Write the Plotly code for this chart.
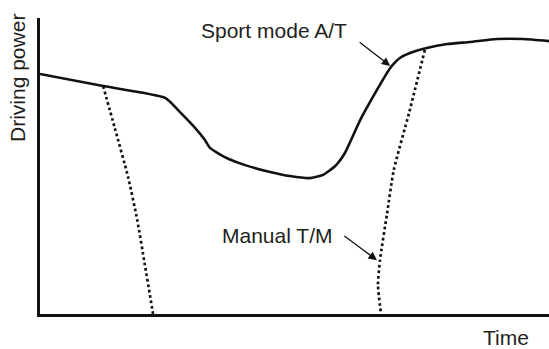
import plotly.graph_objects as go

# Driving power versus time (arbitrary units, 0-100 on both axes)
sport_time = [0, 12.4, 24.6, 27.5, 30.5, 32.4, 33.4, 36.3, 40.3, 45.2, 49.1, 53.0,
              55.6, 58.0, 59.9, 62.9, 66.2, 68.8, 70.7, 72.7, 76.0, 80.0, 84.5,
              89.8, 94.9, 100]
sport_power = [81.1, 77.0, 73.0, 68.2, 62.8, 58.8, 56.1, 53.0, 50.3, 48.0, 46.6, 45.9,
               47.0, 50.0, 54.4, 65.5, 75.7, 83.1, 86.5, 88.2, 89.9, 91.2, 91.9,
               92.9, 92.9, 92.2]

# Manual transmission: power drop during the first shift
shift1_time = [12.4, 14.7, 17.3, 19.1, 20.6, 21.6, 22.2]
shift1_power = [77.0, 62.8, 46.3, 31.8, 16.6, 6.4, 0]

# Manual transmission: power recovery after the second shift
shift2_time = [75.6, 72.5, 69.5, 68.2, 66.8, 66.4, 67.0]
shift2_power = [89.2, 67.9, 48.6, 34.1, 18.2, 9.8, 0]

ink = "#111111"
text_ink = "#231f20"
font_family = "Liberation Sans, Arial, sans-serif"
fsize = 21
label_font = dict(family=font_family, size=fsize, color=text_ink)

fig = go.Figure()
fig.add_trace(go.Scatter(x=sport_time, y=sport_power, mode="lines",
                         line=dict(color=ink, width=2.6, shape="spline", smoothing=0.5),
                         hoverinfo="skip"))
for tx, py in ((shift1_time, shift1_power), (shift2_time, shift2_power)):
    fig.add_trace(go.Scatter(x=tx, y=py, mode="lines",
                             line=dict(color=ink, width=2.7, dash="2.7px,2.8px",
                                       shape="spline", smoothing=0.6),
                             hoverinfo="skip"))

# Callout arrows
fig.add_annotation(x=68.8, y=83.8, ax=62.5, ay=92.2, xref="x", yref="y",
                   axref="x", ayref="y", text="", showarrow=True,
                   arrowhead=2, arrowsize=1.3, arrowwidth=1.3, arrowcolor=ink)
fig.add_annotation(x=66.2, y=18.2, ax=59.5, ay=26.7, xref="x", yref="y",
                   axref="x", ayref="y", text="", showarrow=True,
                   arrowhead=2, arrowsize=1.3, arrowwidth=1.3, arrowcolor=ink)

# Labels
fig.add_annotation(x=46.0, y=95.9, xref="x", yref="y", text="Sport mode A/T",
                   showarrow=False, font=label_font)
fig.add_annotation(x=46.6, y=26.4, xref="x", yref="y", text="Manual T/M",
                   showarrow=False, font=label_font)
# Axis titles placed in paper space (outside the plotting area)
fig.add_annotation(x=0.915, y=-0.079, xref="paper", yref="paper", text="Time",
                   xanchor="center", yanchor="middle", showarrow=False, font=label_font)
fig.add_annotation(x=-0.044, y=0.796, xref="paper", yref="paper", text="Driving power",
                   xanchor="center", yanchor="middle", textangle=-90,
                   showarrow=False, font=label_font)

axis_common = dict(showline=True, linewidth=3, linecolor=ink, showgrid=False,
                   zeroline=False, showticklabels=False, ticks="", fixedrange=True)
fig.update_xaxes(range=[0, 100], **axis_common)
fig.update_yaxes(range=[0, 100], **axis_common)

fig.update_layout(width=549, height=349, margin=dict(l=40, r=0, t=18, b=35),
                  plot_bgcolor="white", paper_bgcolor="white", showlegend=False)

fig.write_html("out.html")
